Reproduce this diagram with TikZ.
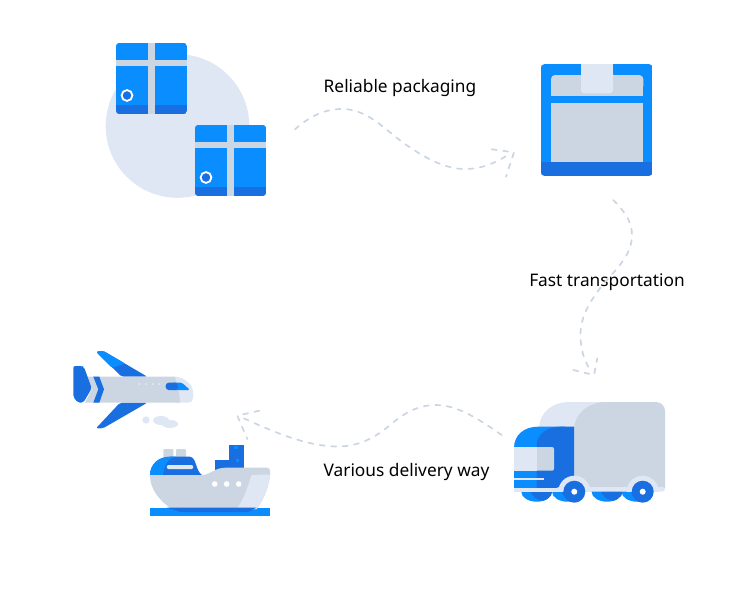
\documentclass[tikz,border=0pt]{standalone}
\usepackage{fontspec}
\setmainfont{Noto Sans}
\definecolor{boxblue}{HTML}{0A8DFF}
\definecolor{darkblue}{HTML}{1A6FE0}
\definecolor{steelgray}{HTML}{CCD6E3}
\definecolor{palegray}{HTML}{E0E7F4}
\tikzset{
    route/.style={draw=steelgray,line width=1.7pt,line cap=round,dash pattern=on 5pt off 6.5pt},
    caption/.style={font=\fontsize{17.3}{22}\selectfont,text=black,inner sep=0pt},
    parcel/.pic={
        \begin{scope}
            \clip[rounded corners=3pt] (0,0) rectangle (71,71);
            \fill[boxblue] (0,0) rectangle (71,62);
            \fill[darkblue] (0,62) rectangle (71,71);
            \fill[steelgray] (32,0) rectangle (39,71);
            \fill[steelgray] (0,16.5) rectangle (71,22.5);
        \end{scope}
        \fill[darkblue] (11,52.5) circle (4.5);
        \draw[white,line width=1.8pt] (11,52.5) circle (5.4);
    }
}
\begin{document}
\begin{tikzpicture}[x=1pt,y=-1pt]
\useasboundingbox (0,0) rectangle (750,614);
\fill[white] (0,0) rectangle (750,614);

% parcels
\fill[palegray] (177.5,126) circle (71.8);
\pic at (116,43) {parcel};
\pic at (195,125) {parcel};

% packed box
\begin{scope}
    \clip[rounded corners=4pt] (540.7,64) rectangle (652.7,176);
    \fill[boxblue] (540.7,64) rectangle (652.7,161.7);
    \fill[darkblue] (540.7,161.7) rectangle (652.7,176);
\end{scope}
\fill[steelgray,rounded corners=4pt] (551,75) rectangle (643.3,90);
\fill[steelgray] (551,84) rectangle (643.3,95.7);
\fill[steelgray] (551,103.3) rectangle (643.3,161.7);
\fill[palegray] (581,64) rectangle (613,80);
\fill[palegray,rounded corners=3pt] (581,70) rectangle (613,93.3);

% truck
\foreach \lobe in {536.7,567.5,607,637} {
    \begin{scope}
        \clip (\lobe,491.7) ellipse (15.4 and 10);
        \fill[boxblue] (\lobe-16,480) rectangle (\lobe+16,503);
        \fill[darkblue] (\lobe+9,489) ellipse (15.4 and 12);
    \end{scope}
}
\fill[palegray] (539,440) -- (539,430) .. controls (539,412) and (552,402) .. (570,402) -- (620,402) -- (620,440) -- cycle;
\begin{scope}
    \clip[rounded corners=9pt] (560,402) rectangle (665,510);
    \fill[steelgray] (574,488) -- (574,430) .. controls (574,414) and (588,402) .. (606,402) -- (665,402) -- (665,488) -- cycle;
\end{scope}
\fill[boxblue] (514,488) -- (514,448) .. controls (514,435) and (524,426.7) .. (538,426.7) -- (565,426.7) -- (565,488) -- cycle;
\fill[darkblue] (536.7,488) -- (536.7,445) .. controls (536.7,434) and (548,426.7) .. (560,426.7) -- (574,426.7) -- (574,488) -- cycle;
\fill[steelgray,rounded corners=2pt] (530,447) rectangle (554,470.7);
\fill[palegray] (514,447) rectangle (537,470.7);
\fill[palegray] (514,478) rectangle (543.7,480);
\begin{scope}
    \clip (500,460) rectangle (680,491.7);
    \foreach \wheel in {574.3,642.7}
        \fill[palegray] (\wheel,491.7) circle (16);
\end{scope}
\fill[palegray] (514,487.5) rectangle (560,491.7);
\fill[palegray,rounded corners=3pt] (556,487) rectangle (665,491.7);
\foreach \wheel in {574.3,642.7} {
    \fill[darkblue] (\wheel,491.7) circle (11);
    \fill[white] (\wheel,491.7) circle (3);
}

% plane
\fill[darkblue,rounded corners=2pt] (96,351.7) -- (103,350.7) -- (147.3,376.7) -- (121.7,376.7) -- cycle;
\fill[boxblue,rounded corners=2pt] (96,351.7) -- (103,350.7) -- (125,363.5) -- (112,368) -- cycle;
\fill[darkblue,rounded corners=2pt] (96,428.3) -- (103,428.3) -- (147.3,402.7) -- (120,402.7) -- cycle;
\fill[palegray] (175,376.7) .. controls (183,376.7) and (193,384) .. (193,392) -- (193,398) .. controls (193,401) and (191,402.7) .. (188,402.7) -- (175,402.7) -- cycle;
\fill[steelgray] (85,376.7) -- (175,376.7) .. controls (178,388) and (180,395) .. (180,402.7) -- (85,402.7) -- (91.7,389.3) -- cycle;
\fill[darkblue,rounded corners=2pt] (73.3,380) -- (73.3,366) -- (81.7,366) -- (84,367) -- (91.7,388.3) -- (83.3,402.7) -- (78,402.7) -- (73.3,397) -- cycle;
\fill[darkblue] (93.3,376.7) -- (99.3,376.7) -- (104,389.3) -- (99.3,402.7) -- (93.3,402.7) -- (98.3,389.3) -- cycle;
\fill[boxblue,rounded corners=1.5pt] (172,382.7) -- (182,382.7) -- (190,390) -- (172,390) -- cycle;
\fill[darkblue,rounded corners=3pt] (165.7,382.7) -- (178,382.7) -- (178,390) -- (165.7,390) -- cycle;
\foreach \dotx in {139.3,146,152.7,159.3}
    \fill[palegray] (\dotx,384) circle (1.2);
\fill[palegray] (146,420) circle (3.7);
\fill[palegray] (161,420.5) ellipse (8 and 4.5);
\fill[palegray] (170,424) ellipse (8 and 4);

% ship
\foreach \funnelx in {163.3,176}
    \fill[steelgray,rounded corners=1pt] (\funnelx,449) rectangle (\funnelx+10,458);
\fill[darkblue] (215,460) rectangle (230,475);
\fill[darkblue] (229.3,445) rectangle (244,468);
\fill[boxblue] (234,446) rectangle (238,449);
\fill[boxblue] (236,459) rectangle (239,462);
\fill[darkblue] (150,475) .. controls (150,465) and (158,456.7) .. (170,456.7) -- (190,456.7) .. controls (197,458) and (195,470) .. (202,475) -- cycle;
\fill[boxblue] (150,475) .. controls (150,465) and (158,456.7) .. (170,456.7) -- (176,456.7) .. controls (168,458) and (164,465) .. (163,475) -- cycle;
\fill[palegray,rounded corners=2pt] (166.7,465) rectangle (193.3,469);
\fill[boxblue] (150,507.5) rectangle (270,516);
\fill[steelgray] (150,475) -- (202,475) .. controls (210,475) and (214,468) .. (225,467.7) -- (267,467.7) .. controls (269,467.7) and (270,469) .. (270,471) -- (270,476) .. controls (268,490) and (262,502) .. (256.7,509) -- (172,509) .. controls (158,500) and (150,488) .. (150,475) -- cycle;
\fill[palegray] (251.7,475) -- (270,474.5) -- (270,476) .. controls (268,490) and (262,502) .. (256.7,509) -- (236.7,509) .. controls (245,498) and (248,485) .. (251.7,475) -- cycle;
\foreach \port in {214.7,226.7,238.7}
    \fill[white] (\port,484) circle (2.8);
\fill[darkblue] (166.7,507.5) .. controls (172,510) and (176,510) .. (180,512) -- (248,512) .. controls (252,510) and (254,509) .. (256.7,507.5) -- cycle;

% labels
\node[caption] (packlabel) at (400,88) {Reliable packaging};
\node[caption] (fastlabel) at (607,282) {Fast transportation};
\node[caption] (waylabel) at (406.5,472) {Various delivery way};

% routes
\coordinate (packstart) at (295,129.3);
\coordinate (packpeak) at (342,109);
\coordinate (packmid) at (405,144);
\coordinate (packlow) at (465,169);
\coordinate (packtip) at (514,152.3);
\coordinate (packwinga) at (491.7,149.3);
\coordinate (packwingb) at (506,176.7);
\draw[route] (packstart) .. controls (310,116) and (325,109) .. (packpeak) .. controls (368,109) and (385,130) .. (packmid) .. controls (425,158) and (445,169) .. (packlow) .. controls (482,169) and (495,163) .. (508,155);
\draw[route] (packwinga) -- (packtip) -- (packwingb);

\coordinate (faststart) at (613.3,200);
\coordinate (fastbulge) at (632,235);
\coordinate (fastmid) at (598,291);
\coordinate (fastback) at (580.5,335);
\coordinate (fasttip) at (594,375);
\coordinate (fastwinga) at (573.3,370);
\coordinate (fastwingb) at (597.3,358.3);
\draw[route] (faststart) .. controls (625,212) and (632,222) .. (fastbulge) .. controls (632,258) and (612,272) .. (fastmid) .. controls (588,305) and (580.5,318) .. (fastback) .. controls (580.5,352) and (586,365) .. (592,372);
\draw[route] (fastwinga) -- (fasttip) -- (fastwingb);

\coordinate (waystart) at (501.7,435);
\coordinate (waypeak) at (436,405);
\coordinate (waymid) at (390,425);
\coordinate (waylow) at (338,446.5);
\coordinate (waytip) at (237.3,415.7);
\coordinate (waywinga) at (259.3,410.7);
\coordinate (waywingb) at (247.3,439);
\draw[route] (waystart) .. controls (480,420) and (458,405) .. (waypeak) .. controls (416,405) and (402,415) .. (waymid) .. controls (375,438) and (358,446.5) .. (waylow) .. controls (305,446.5) and (270,430) .. (243,418);
\draw[route] (waywinga) -- (waytip) -- (waywingb);
\end{tikzpicture}
\end{document}
